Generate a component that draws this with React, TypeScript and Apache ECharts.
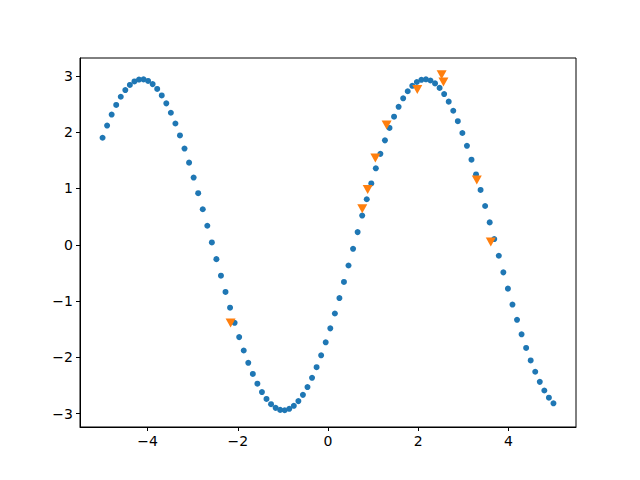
import React, { useEffect, useRef } from "react";
import * as echarts from "echarts";

const blueX = [
  -5, -4.899, -4.798, -4.697, -4.596, -4.495, -4.394, -4.293, -4.192, -4.091,
  -3.99, -3.889, -3.788, -3.687, -3.586, -3.485, -3.384, -3.283, -3.182, -3.081,
  -2.98, -2.879, -2.778, -2.677, -2.576, -2.475, -2.374, -2.273, -2.172, -2.071,
  -1.97, -1.869, -1.768, -1.667, -1.566, -1.465, -1.364, -1.263, -1.162, -1.061,
  -0.96, -0.859, -0.758, -0.657, -0.556, -0.455, -0.354, -0.253, -0.152, -0.051,
  0.051, 0.152, 0.253, 0.354, 0.455, 0.556, 0.657, 0.758, 0.859, 0.96,
  1.061, 1.162, 1.263, 1.364, 1.465, 1.566, 1.667, 1.768, 1.869, 1.97,
  2.071, 2.172, 2.273, 2.374, 2.475, 2.576, 2.677, 2.778, 2.879, 2.98,
  3.081, 3.182, 3.283, 3.384, 3.485, 3.586, 3.687, 3.788, 3.889, 3.99,
  4.091, 4.192, 4.293, 4.394, 4.495, 4.596, 4.697, 4.798, 4.899, 5,
];

const blueY = [
  1.901, 2.118, 2.313, 2.484, 2.63, 2.749, 2.84, 2.902, 2.935, 2.938,
  2.91, 2.854, 2.768, 2.653, 2.512, 2.345, 2.154, 1.942, 1.709, 1.459,
  1.194, 0.917, 0.631, 0.338, 0.041, -0.255, -0.549, -0.838, -1.117, -1.386,
  -1.64, -1.878, -2.097, -2.294, -2.468, -2.616, -2.738, -2.832, -2.897, -2.933,
  -2.939, -2.914, -2.86, -2.777, -2.666, -2.527, -2.363, -2.175, -1.964, -1.733,
  -1.485, -1.221, -0.946, -0.66, -0.368, -0.072, 0.225, 0.519, 0.809, 1.09,
  1.359, 1.615, 1.855, 2.076, 2.275, 2.451, 2.602, 2.727, 2.824, 2.892,
  2.931, 2.939, 2.918, 2.867, 2.787, 2.678, 2.543, 2.381, 2.195, 1.986,
  1.758, 1.511, 1.249, 0.974, 0.689, 0.398, 0.102, -0.195, -0.49, -0.779,
  -1.062, -1.333, -1.59, -1.832, -2.055, -2.256, -2.435, -2.589, -2.716, -2.816,
];

const orangeX = [-2.16, 0.76, 0.88, 1.05, 1.3, 1.98, 2.52, 2.56, 3.3, 3.61];
const orangeY = [-1.39, 0.64, 0.98, 1.54, 2.13, 2.76, 3.02, 2.89, 1.15, 0.05];

const xTicks = [-4, -2, 0, 2, 4];
const yTicks = [-3, -2, -1, 0, 1, 2, 3];

export default function App() {
  const ref = useRef<HTMLDivElement>(null);
  useEffect(() => {
    document.body.style.margin = "0";
    const chart = echarts.init(ref.current!, null, { renderer: "svg" });
    const font = "DejaVu Sans";
    const axisCommon = {
      axisLine: { show: true, onZero: false, lineStyle: { color: "#000", width: 1 } },
      axisTick: { show: true, inside: false, length: 4, lineStyle: { color: "#000", width: 1 } },
      splitLine: { show: false },
    };
    const fmt = (v: number) => (v < 0 ? "\u2212" + Math.abs(v) : String(v));
    chart.setOption({
      animation: false,
      backgroundColor: "#fff",
      grid: {
        left: 80,
        right: 64,
        top: 58,
        bottom: 53,
        show: true,
        borderColor: "#000",
        borderWidth: 1,
        backgroundColor: "transparent",
      },
      xAxis: {
        type: "value",
        min: -5.5,
        max: 5.5,
        ...axisCommon,
        axisTick: { ...axisCommon.axisTick, customValues: xTicks },
        axisLabel: {
          customValues: xTicks,
          color: "#000",
          fontFamily: font,
          fontSize: 14,
          margin: 7,
          formatter: fmt,
        },
      },
      yAxis: {
        type: "value",
        min: -3.237,
        max: 3.318,
        ...axisCommon,
        axisTick: { ...axisCommon.axisTick, customValues: yTicks },
        axisLabel: {
          customValues: yTicks,
          color: "#000",
          fontFamily: font,
          fontSize: 14,
          margin: 7,
          formatter: fmt,
        },
      },
      series: [
        {
          type: "scatter",
          data: blueX.map((x, i) => [x, blueY[i]]),
          symbol: "circle",
          symbolSize: 6,
          itemStyle: { color: "#1f77b4", opacity: 1 },
          z: 2,
        },
        {
          type: "scatter",
          data: orangeX.map((x, i) => [x, orangeY[i]]),
          symbol: "triangle",
          symbolRotate: 180,
          symbolSize: [10, 9],
          itemStyle: { color: "#ff7f0e", opacity: 1 },
          z: 3,
        },
      ],
    });
    return () => chart.dispose();
  }, []);
  return (
    <div
      ref={ref}
      style={{ position: "absolute", left: 0, top: 0, width: 640, height: 480 }}
    />
  );
}
